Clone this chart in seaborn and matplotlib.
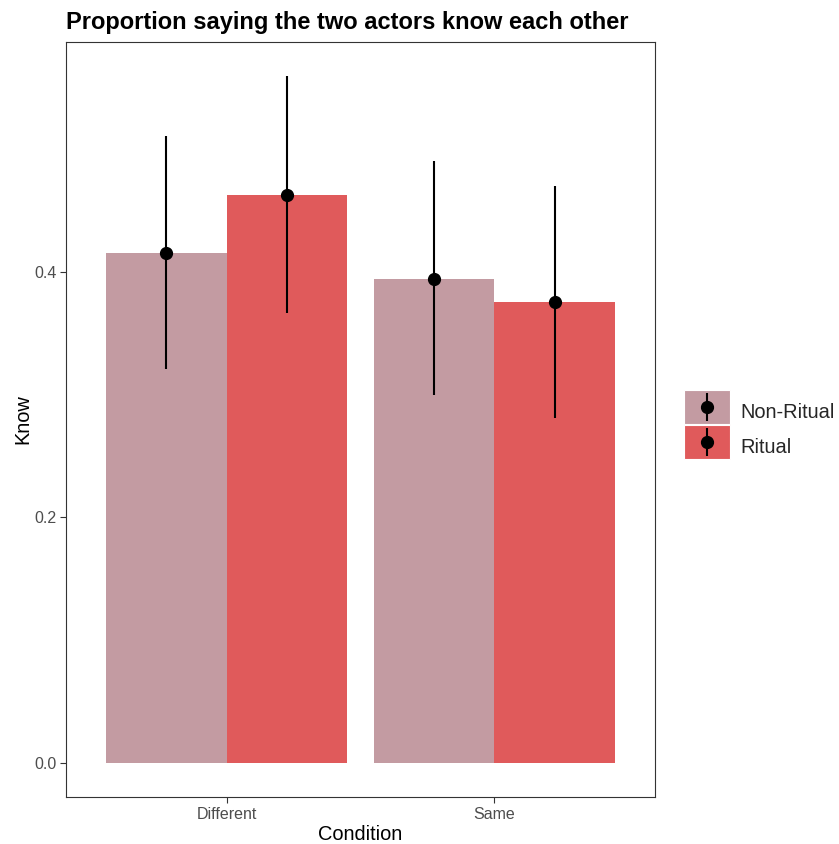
import matplotlib
matplotlib.use("Agg")
import matplotlib.pyplot as plt
from matplotlib.patches import Patch, Rectangle
from matplotlib.lines import Line2D
from matplotlib.legend_handler import HandlerTuple, HandlerPatch
import seaborn as sns
import pandas as pd

# values
conditions = ["Different", "Different", "Same", "Same"]
groups = ["Non-Ritual", "Ritual", "Non-Ritual", "Ritual"]
know = [0.4154, 0.4626, 0.3943, 0.3756]
ci_low = [0.3203, 0.3659, 0.2992, 0.2805]
ci_high = [0.5106, 0.5593, 0.4902, 0.4699]

colors = {"Non-Ritual": "#C39BA2", "Ritual": "#E05A5B"}

df = pd.DataFrame({"Condition": conditions, "Ritual": groups, "Know": know,
                   "lo": ci_low, "hi": ci_high})

sns.set_theme(style="white")
plt.rcParams["font.family"] = ["Liberation Sans", "DejaVu Sans"]

fig = plt.figure(figsize=(8.39, 8.44), dpi=100)
ax = fig.add_axes([66 / 839, 1 - 797 / 844, 589 / 839, 755 / 844])

sns.barplot(data=df, x="Condition", y="Know", hue="Ritual",
            palette=colors, width=0.9, errorbar=None, saturation=1,
            linewidth=0, ax=ax, legend=False)

# point + range on top of each bar, placed from the bar geometry
bars = ax.patches
for bar, (_, row) in zip(bars, df.sort_values(["Ritual", "Condition"]).iterrows()):
    cx = bar.get_x() + bar.get_width() / 2
    ax.plot([cx, cx], [row["lo"], row["hi"]], color="black", lw=1.5,
            solid_capstyle="butt", zorder=3)
    ax.plot(cx, row["Know"], "o", color="black", markersize=8.5, zorder=4)

ax.set_xlim(-0.6, 1.6)
ax.set_ylim(-0.028, 0.587)
ax.set_yticks([0.0, 0.2, 0.4])
ax.set_yticklabels(["0.0", "0.2", "0.4"])

for s in ax.spines.values():
    s.set_color("#333333")
    s.set_linewidth(0.8)
ax.tick_params(axis="both", which="both", length=4, width=0.8, color="#333333",
               labelsize=11.5, labelcolor="#4D4D4D", pad=3, left=True, bottom=True)

ax.set_xlabel("Condition", fontsize=14.4, color="black", labelpad=2)
ax.set_ylabel("Know", fontsize=14.4, color="black", labelpad=1)
ax.set_title("Proportion saying the two actors know each other", loc="left",
             fontsize=17, fontweight="bold", color="black", pad=9)


# legend key box centred on the point marker
def key_rect(legend, orig_handle, xdescent, ydescent, width, height, fontsize):
    return Rectangle((-xdescent, -ydescent / 2), width, height)


handles = []
for g in ["Non-Ritual", "Ritual"]:
    handles.append((Patch(facecolor=colors[g], edgecolor="white", linewidth=0.8),
                    Line2D([], [], color="black", marker="|", markersize=20,
                           markeredgewidth=1.5, linestyle="none"),
                    Line2D([], [], color="black", marker="o", markersize=8.5,
                           linestyle="none")))
fig.legend(handles, ["Non-Ritual", "Ritual"],
           handler_map={tuple: HandlerTuple(ndivide=1),
                        Patch: HandlerPatch(patch_func=key_rect)},
           loc="upper left", bbox_to_anchor=(684 / 839, 1 - 395 / 844),
           frameon=False, fontsize=14.4, handlelength=2.3, handleheight=2.25,
           handletextpad=0.5, labelspacing=0.05, borderpad=0, borderaxespad=0)

fig.savefig("out.png", dpi=100, facecolor="white")
